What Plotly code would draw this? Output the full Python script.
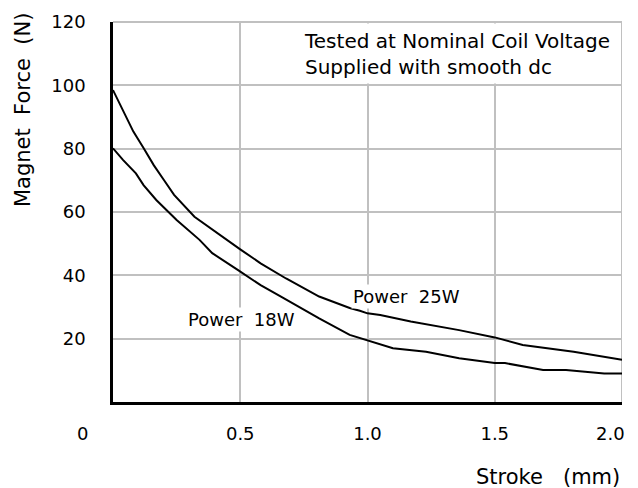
import plotly.graph_objects as go

# Data
stroke_25w = [0, 0.04, 0.08, 0.12, 0.16, 0.2, 0.24, 0.32, 0.41, 0.5, 0.58, 0.68, 0.81,
              0.93, 0.97, 1.0, 1.05, 1.17, 1.36, 1.5, 1.61, 1.81, 2.0]
force_25w = [98.5, 91.7, 85.4, 80.2, 74.8, 70.1, 65.4, 58.5, 53.3, 48.2, 43.8, 39.0, 33.3,
             29.7, 28.8, 28.0, 27.5, 25.4, 22.7, 20.4, 18.0, 15.9, 13.3]

stroke_18w = [0, 0.04, 0.09, 0.12, 0.17, 0.25, 0.34, 0.39, 0.49, 0.58, 0.66, 0.81, 0.93,
              1.0, 1.1, 1.23, 1.36, 1.5, 1.54, 1.69, 1.78, 1.93, 2.0]
force_18w = [80.1, 76.4, 72.2, 68.5, 63.8, 57.5, 51.2, 47.0, 41.7, 36.9, 33.3, 26.4, 21.2,
             19.4, 17.0, 15.9, 13.8, 12.3, 12.3, 10.1, 10.1, 9.0, 9.0]

y_ticks = [20, 40, 60, 80, 100, 120]
y_tick_text = ["20", "40", "60", "80", "100", "120"]
x_ticks = [0.5, 1.0, 1.5, 2.0]
x_tick_text = ["0.5", "1.0", "1.5", "2.0"]

FONT = "DejaVu Sans"
GRID = "#c0c0c0"

fig = go.Figure()
fig.add_trace(go.Scatter(x=stroke_25w, y=force_25w, mode="lines",
                         line=dict(color="black", width=2), name="Power 25W"))
fig.add_trace(go.Scatter(x=stroke_18w, y=force_18w, mode="lines",
                         line=dict(color="black", width=2), name="Power 18W"))

fig.update_layout(
    width=630, height=480,
    margin=dict(l=105, r=16, t=14, b=86, autoexpand=False),
    paper_bgcolor="white", plot_bgcolor="white",
    showlegend=False,
    font=dict(family=FONT, color="black"),
    xaxis=dict(range=[0, 2.0], tickvals=x_ticks[:-1], ticktext=x_tick_text[:-1],
               showgrid=True, gridcolor=GRID, gridwidth=2, zeroline=False,
               showline=True, linecolor="black", linewidth=2.5, ticks="",
               automargin=False, ticklabeloverflow="allow",
               ticklabelstandoff=14, tickfont=dict(size=18, family=FONT, color="black")),
    yaxis=dict(range=[0, 120], tickvals=y_ticks, ticktext=y_tick_text,
               showgrid=True, gridcolor=GRID, gridwidth=2, zeroline=False,
               showline=True, linecolor="black", linewidth=2.5, ticks="",
               automargin=False, ticklabeloverflow="allow",
               ticklabelstandoff=21, tickfont=dict(size=18, family=FONT, color="black")),
    shapes=[
        dict(type="rect", xref="x", yref="y", x0=0.73, x1=1.993, y0=100.6, y1=119.5,
             fillcolor="white", line=dict(width=0), layer="between"),
        dict(type="line", xref="paper", yref="paper", x0=0, x1=1, y0=1, y1=1,
             line=dict(color=GRID, width=2), layer="below"),
        dict(type="line", xref="x", yref="paper", x0=x_ticks[-1], x1=x_ticks[-1], y0=0, y1=1,
             line=dict(color=GRID, width=2), layer="below"),
    ],
    annotations=[
        dict(text="Tested at Nominal Coil Voltage<br>Supplied with smooth dc",
             xref="x", yref="y", x=0.743, y=109.9, xanchor="left", yanchor="middle",
             align="left", showarrow=False, font=dict(size=20)),
        dict(text="Power\u00a0\u00a018W", xref="x", yref="y", x=0.503, y=25.9,
             xanchor="center", yanchor="middle",
             showarrow=False, bgcolor="white", font=dict(size=18)),
        dict(text="Power\u00a0\u00a025W", xref="x", yref="y", x=1.155, y=33.2,
             xanchor="center", yanchor="middle",
             showarrow=False, bgcolor="white", font=dict(size=18)),
        # last x tick label, pulled left so it stays inside the page
        dict(text=x_tick_text[-1], xref="x", yref="paper", x=x_ticks[-1], y=-0.083,
             xanchor="right", yanchor="middle", xshift=5,
             showarrow=False, font=dict(size=18)),
        dict(text="0", xref="paper", yref="paper", x=-0.059, y=-0.084,
             xanchor="center", yanchor="middle",
             showarrow=False, font=dict(size=18)),
        dict(text="Magnet\u00a0\u00a0Force\u00a0\u00a0(N)", xref="paper", yref="paper",
             x=-0.177, y=0.768, xanchor="center", yanchor="middle", textangle=-90,
             showarrow=False, font=dict(size=21)),
        dict(text="Stroke\u00a0\u00a0\u00a0(mm)", xref="paper", yref="paper",
             x=1.0, y=-0.197, xanchor="right", yanchor="middle",
             showarrow=False, font=dict(size=21)),
    ],
)

fig.write_html("out.html")
